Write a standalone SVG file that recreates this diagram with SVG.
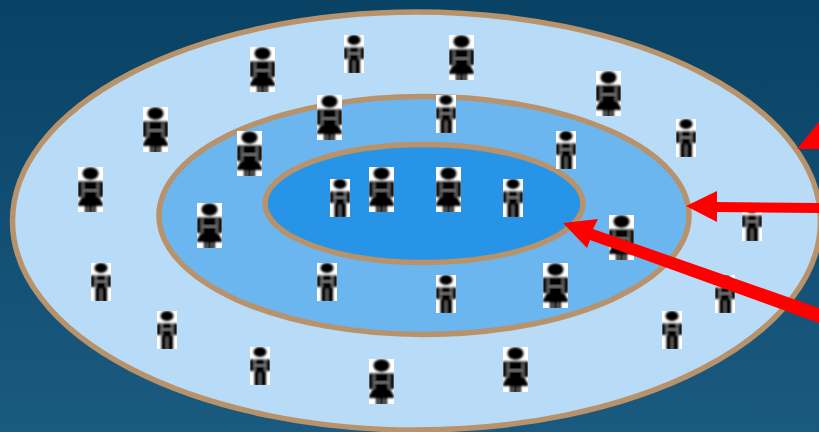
<svg xmlns="http://www.w3.org/2000/svg" width="819" height="432" viewBox="0 0 819 432">
<style>
.ring{stroke:#b8926a;stroke-width:5.500}
.arrow{fill:#ff0000}
.k{fill:#000}
.g{fill:none;stroke:#a8a8a8;stroke-width:1.200}
.soft{filter:url(#soft)}
</style>
<defs>
<filter id="soft" filterUnits="userSpaceOnUse" x="0" y="0" width="25" height="45"><feGaussianBlur stdDeviation="0.8"/></filter>
<linearGradient id="bg" x1="0" y1="0" x2="0" y2="1"><stop offset="0" stop-color="#084264"/><stop offset="1" stop-color="#1b5a80"/></linearGradient>
<symbol id="female" width="25" height="45" viewBox="0 0 25 45">
<rect width="25" height="45" fill="#fff"/>
<g class="soft">
<ellipse class="k" cx="12.500" cy="6.500" rx="8" ry="6.200"/>
<path class="k" d="M0 14.500H25V30H21L25 37V39H18V46H7V39H0V37L4 30H0Z"/>
<path class="g" d="M5 16V30M20 16V30M6 23.500H19M10 40V45M15 40V45"/>
</g>
</symbol>
<symbol id="male" width="20" height="38" viewBox="0 0 20 38">
<rect width="20" height="38" fill="#fff"/>
<g class="soft">
<ellipse class="k" cx="10" cy="5" rx="6.500" ry="5"/>
<path class="k" d="M0 12.500H20V24H16V39H4.500V24H0Z"/>
<path class="g" d="M4.800 13V24M15.200 13V24M5 18.500H15M10 26V38"/>
</g>
</symbol>
</defs>
<rect width="819" height="432" fill="url(#bg)"/>
<g id="ring-outer"><ellipse class="ring" cx="416.500" cy="221" rx="404" ry="209" fill="#b8dcf8"/></g>
<g id="ring-middle"><ellipse class="ring" cx="424" cy="215.500" rx="265" ry="119" fill="#6cb6f0"/></g>
<g id="ring-inner"><ellipse class="ring" cx="424" cy="203.500" rx="159" ry="59" fill="#2894e8"/></g>
<g id="people">
<use id="f1" href="#female" x="250" y="47"/>
<use id="f2" href="#female" x="449" y="35"/>
<use id="f3" href="#female" x="596" y="71"/>
<use id="f4" href="#female" x="143" y="107"/>
<use id="f5" href="#female" x="317" y="95"/>
<use id="f6" href="#female" x="237" y="131"/>
<use id="f7" href="#female" x="78" y="167"/>
<use id="f8" href="#female" x="369" y="167"/>
<use id="f9" href="#female" x="436" y="167"/>
<use id="f10" href="#female" x="197" y="203"/>
<use id="f11" href="#female" x="609" y="215"/>
<use id="f12" href="#female" x="543" y="263"/>
<use id="f13" href="#female" x="369" y="359"/>
<use id="f14" href="#female" x="503" y="347"/>
<use id="m1" href="#male" x="344" y="35"/>
<use id="m2" href="#male" x="436" y="95"/>
<use id="m3" href="#male" x="676" y="119"/>
<use id="m4" href="#male" x="556" y="131"/>
<use id="m5" href="#male" x="330" y="179"/>
<use id="m6" href="#male" x="503" y="179"/>
<use id="m7" href="#male" x="742" y="203"/>
<use id="m8" href="#male" x="91" y="263"/>
<use id="m9" href="#male" x="317" y="263"/>
<use id="m10" href="#male" x="436" y="275"/>
<use id="m11" href="#male" x="715" y="275"/>
<use id="m12" href="#male" x="157" y="311"/>
<use id="m13" href="#male" x="662" y="311"/>
<use id="m14" href="#male" x="250" y="347"/>
</g>
<g id="connectors">
<polygon class="arrow" points="797,149 819,149 819,122"/>
<polygon class="arrow" points="686,206 717,191 717,202 819,203 819,213 717,212 717,222"/>
<polygon class="arrow" points="563,223 598,219 593,229 819,308 819,323 590,240 587,248"/>
</g>
</svg>
